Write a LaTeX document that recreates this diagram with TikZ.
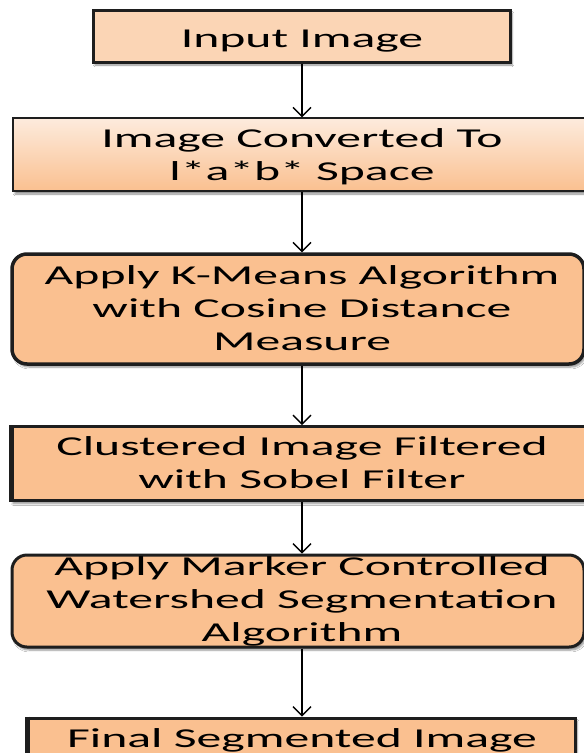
\documentclass[tikz,border=0pt]{standalone}
\usepackage{fontspec}
\setmainfont{Carlito}[FakeStretch=1.82]
\usetikzlibrary{arrows.meta,shadows.blur}
\definecolor{peachA}{HTML}{FBD5B5}
\definecolor{peachB}{HTML}{FAC090}
\definecolor{gradTop}{HTML}{FDEBDD}
\definecolor{edge}{HTML}{1E1E1E}
\begin{document}
\begin{tikzpicture}[x=1pt,y=-1pt,
  shd/.style={blur shadow={shadow xshift=2pt,shadow yshift=-3pt,shadow blur steps=6,shadow opacity=45}},
  boxbase/.style={draw=edge,inner sep=0pt,shd},
  txt/.style={align=center,font=\fontsize{27.3}{33}\selectfont,inner sep=0pt,text=black},
  arr/.style={line width=1.6pt,draw=black,-{Straight Barb[length=9pt,width=18pt,line width=1.4pt]}}]
\useasboundingbox (0,0) rectangle (584,753);
\fill[white] (0,0) rectangle (584,753);
% boxes
\node[boxbase,fill=peachA,line width=3pt,minimum width=417pt,minimum height=52pt] (b1) at (301.5,36) {};
\node[boxbase,top color=gradTop,bottom color=peachB,line width=1.5pt,minimum width=582pt,minimum height=73pt] (b2) at (304,154.5) {};
\node[boxbase,fill=peachB,line width=3.5pt,rounded corners=15pt,minimum width=572pt,minimum height=110pt] (b3) at (298,309) {};
\node[boxbase,fill=peachB,line width=3pt,minimum width=589pt,minimum height=74pt] (b4) at (305.5,463.5) {};
\node[boxbase,fill=peachB,line width=3pt,rounded corners=15pt,minimum width=572pt,minimum height=92pt] (b5) at (298,601) {};
\node[boxbase,fill=peachB,line width=3pt,minimum width=547pt,minimum height=54pt] (b6) at (301.5,745) {};
% thick left edges
\draw[edge,line width=5pt] ([xshift=1.5pt]b4.north west) -- ([xshift=1.5pt]b4.south west);
\draw[edge,line width=5pt] ([xshift=1pt]b6.north west) -- ([xshift=1pt]b6.south west);
% texts
\node[txt] (t1) at (302,41) {Input Image};
\node[txt] (t2) at (302,157) {Image Converted To\\l*a*b* Space};
\node[txt] (t3) at (302,308) {Apply K-Means Algorithm\\with Cosine Distance\\Measure};
\node[txt] (t4) at (302,463) {Clustered Image Filtered\\with Sobel Filter};
\node[txt] (t5) at (302,601) {Apply Marker Controlled\\Watershed Segmentation\\Algorithm};
\node[txt] (t6) at (302,740) {Final Segmented Image};
% arrows
\coordinate (ax) at (302,0);
\draw[arr] (b1.south -| ax) -- (b2.north -| ax);
\draw[arr] (b2.south -| ax) -- (b3.north -| ax);
\draw[arr] (b3.south -| ax) -- (b4.north -| ax);
\draw[arr] (b4.south -| ax) -- (b5.north -| ax);
\draw[arr] (b5.south -| ax) -- (b6.north -| ax);
\end{tikzpicture}
\end{document}
